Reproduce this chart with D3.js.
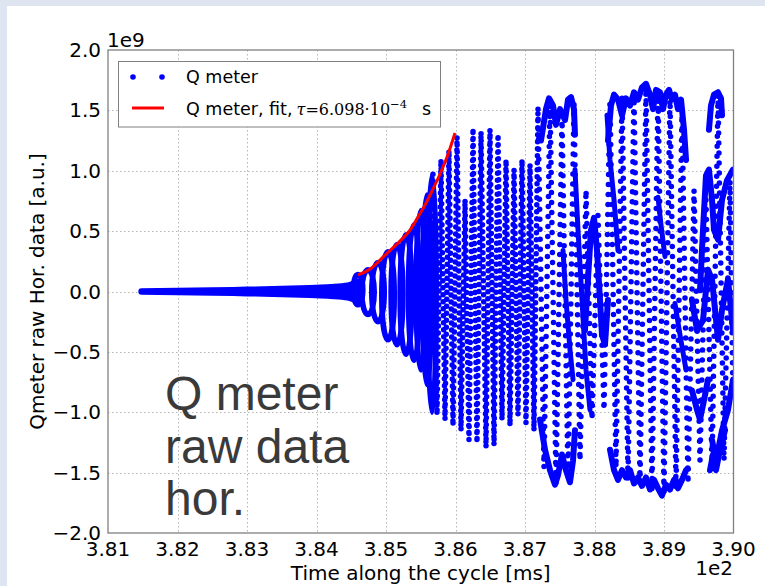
<!DOCTYPE html>
<html><head><meta charset="utf-8">
<script src="https://cdn.jsdelivr.net/npm/d3@7/dist/d3.min.js"></script>
<style>body{margin:0;background:#fff}svg{display:block}</style>
</head><body>
<svg id="chart" width="765" height="586"></svg>
<script>
// ---------- data (time in ms, signal in units of 1e9) ----------
const xTicks = [381, 382, 383, 384, 385, 386, 387, 388, 389, 390];
const yTicks = [-2, -1.5, -1, -0.5, 0, 0.5, 1, 1.5, 2];

// early thin band (before growth)
const bandT   = [381.48, 382.0, 382.5, 383.0, 383.5, 383.9, 384.2, 384.45, 384.6];
const bandAmp = [0.002, 0.006, 0.010, 0.016, 0.022, 0.030, 0.037, 0.05, 0.08];

// growth lobes
const lobeT   = [384.597, 384.741, 384.885, 385.029, 385.158, 385.288, 385.403, 385.504, 385.590, 385.662];
const lobeHW  = [0.07, 0.09, 0.09, 0.09, 0.085, 0.085, 0.08, 0.07, 0.065, 0.06];
const lobeTop = [0.14, 0.18, 0.24, 0.33, 0.39, 0.47, 0.55, 0.67, 0.80, 0.96];
const lobeBot = [-0.11, -0.19, -0.25, -0.40, -0.44, -0.52, -0.57, -0.65, -0.77, -1.0];

// sampled swings (alternating extremes), dense part
const swingT1 = [385.676, 385.734, 385.791, 385.849, 385.906, 385.964, 386.022, 386.079, 386.137, 386.194,
  386.252, 386.309, 386.367, 386.439, 386.496, 386.554, 386.612, 386.669, 386.727, 386.784,
  386.842, 386.899, 386.957, 387.014, 387.072, 387.129, 387.187];
const swingY1 = [0.97, -1.02, 1.09, -1.06, 1.17, -1.11, 1.28, -1.15, 0.76, -1.23,
  1.35, -1.25, 1.32, -1.29, 1.34, -1.27, 1.30, -1.06, 1.09, -1.11,
  1.01, -1.02, 1.09, -1.09, 1.05, -1.15, 1.51];
// sampled swings, sparse part
const swingT2 = [387.187, 387.273, 387.360, 387.446,
  387.532, 387.619, 387.705, 387.791, 387.878, 387.964, 388.050, 388.137, 388.223, 388.309,
  388.396, 388.482, 388.568, 388.655, 388.741, 388.827, 388.914, 389.000, 389.086, 389.173,
  389.259, 389.345, 389.432, 389.518, 389.604, 389.691, 389.777, 389.863, 389.950, 389.993];
const swingY2 = [1.51, -1.46, 1.59, -1.59,
  1.46, -1.56, 1.55, -1.40, 0.84, -1.06, 0.63, -0.98, 1.59, -1.46,
  1.63, -1.56, 1.65, -1.59, 1.69, -1.64, 1.67, -1.66, 1.63, -1.63,
  1.51, -1.59, 0.84, -1.40, 0.76, -1.46, 1.63, -1.40, 0.92, -0.90];

// dense chains of samples
const chainT1 = [387.230, 387.302, 387.345, 387.403, 387.446, 387.504, 387.576, 387.619, 387.662, 387.705, 387.719];
const chainY1 = [1.25, 1.51, 1.60, 1.54, 1.38, 1.51, 1.42, 1.59, 1.61, 1.51, 1.30];
const chainT2 = [388.194, 388.237, 388.281, 388.338, 388.396, 388.453, 388.511, 388.568, 388.626, 388.683, 388.741, 388.799,
  388.842, 388.885, 388.942, 388.986, 389.029, 389.072, 389.115, 389.158, 389.201, 389.245, 389.288, 389.317];
const chainY2 = [1.25, 1.54, 1.63, 1.59, 1.46, 1.60, 1.54, 1.65, 1.59, 1.69, 1.72, 1.63,
  1.51, 1.67, 1.65, 1.51, 1.63, 1.67, 1.59, 1.63, 1.51, 1.59, 1.34, 1.09];
const chainT3 = [389.647, 389.676, 389.719, 389.777, 389.820, 389.835];
const chainY3 = [1.34, 1.54, 1.63, 1.65, 1.60, 1.46];
const chainT4 = [387.216, 387.288, 387.360, 387.432, 387.475, 387.532, 387.590, 387.647, 387.691, 387.719];
const chainY4 = [-1.06, -1.31, -1.48, -1.60, -1.52, -1.35, -1.48, -1.58, -1.40, -1.15];
const chainT5 = [388.223, 388.281, 388.338, 388.396, 388.453, 388.511, 388.568, 388.626, 388.683, 388.741,
  388.799, 388.856, 388.914, 388.971, 389.029, 389.086, 389.144, 389.201, 389.259, 389.317];
const chainY5 = [-1.31, -1.48, -1.56, -1.48, -1.54, -1.48, -1.59, -1.54, -1.61, -1.54,
  -1.64, -1.56, -1.63, -1.69, -1.60, -1.64, -1.56, -1.63, -1.56, -1.48];
const chainT6 = [389.662, 389.705, 389.748, 389.806, 389.878];
const chainY6 = [-1.48, -1.35, -1.48, -1.31, -1.15];
const chainT7 = [387.863, 387.906, 387.950, 387.993, 388.036, 388.079, 388.108, 388.151, 388.194];
const chainY7 = [-0.32, 0.10, 0.51, 0.61, 0.34, -0.07, -0.36, -0.44, -0.07];
const chainT8 = [389.518, 389.561, 389.604, 389.647, 389.691, 389.719, 389.777, 389.835, 389.906, 389.993];
const chainY8 = [0.01, 0.51, 0.96, 1.01, 0.76, 0.51, 0.43, 0.76, 0.92, 1.01];
const chainT9 = [389.403, 389.475, 389.561, 389.633, 389.691, 389.777, 389.835, 389.921, 389.993];
const chainY9 = [-0.07, -0.32, -0.24, 0.18, 0.10, -0.40, -0.15, 0.10, -0.32];
const chainT10 = [389.403, 389.475, 389.518, 389.576, 389.633];
const chainY10 = [-0.82, -0.98, -1.06, -0.90, -0.73];
const chainT11 = [389.691, 389.748, 389.835, 389.921, 389.993];
const chainY11 = [-1.23, -1.40, -1.15, -0.98, -0.73];
const chainT12 = [387.719, 387.763, 387.820, 387.878, 387.935];
const chainY12 = [1.01, 0.51, -0.07, -0.65, -0.98];
const chainT13 = [388.180, 388.223, 388.281, 388.338];
const chainY13 = [1.46, 1.09, 0.76, 0.34];
const chainT14 = [387.547, 387.590, 387.647, 387.691];
const chainY14 = [0.34, -0.07, -0.48, -0.73];
const chainT15 = [388.914, 388.957, 389.014];
const chainY15 = [0.78, 0.55, 0.29];
const chainT16 = [389.158, 389.230, 389.317];
const chainY16 = [-0.10, -0.36, -0.65];

// exponential fit (tau = 6.098e-4 s)
const fitT = [384.597, 384.770, 384.986, 385.201, 385.345, 385.460, 385.561, 385.662, 385.777, 385.878, 385.993];
const fitY = [0.137, 0.186, 0.302, 0.418, 0.509, 0.617, 0.716, 0.832, 0.973, 1.114, 1.313];

// ---------- drawing ----------
const W = 765, H = 586;
const svg = d3.select('#chart');
const L = 108, R = 733.5, T = 50, B = 533;
const x = d3.scaleLinear().domain([381, 390]).range([L, R]);
const y = d3.scaleLinear().domain([-2, 2]).range([B, T]);
const BLUE = '#0000ff';
const SANS = 'DejaVu Sans, sans-serif';
const SERIF = 'DejaVu Serif, serif';

svg.append('rect').attr('width', W).attr('height', H).attr('fill', '#dee5f0');
svg.append('rect').attr('x', 7).attr('y', 6).attr('width', W - 7).attr('height', H - 6).attr('fill', '#ffffff');

svg.append('defs').append('clipPath').attr('id', 'clip')
  .append('rect').attr('x', L).attr('y', T).attr('width', R - L).attr('height', B - T);

// grid
const grid = svg.append('g').attr('stroke', '#b4b4b4').attr('stroke-width', 1).attr('stroke-dasharray', '1.5,2.5');
grid.selectAll('.gx').data(xTicks.slice(1, -1)).join('line')
  .attr('x1', d => Math.round(x(d)) + 0.5).attr('x2', d => Math.round(x(d)) + 0.5).attr('y1', T).attr('y2', B);
grid.selectAll('.gy').data(yTicks.slice(1, -1)).join('line')
  .attr('y1', d => Math.round(y(d)) + 0.5).attr('y2', d => Math.round(y(d)) + 0.5).attr('x1', L).attr('x2', R);

const plot = svg.append('g').attr('clip-path', 'url(#clip)');

// early band
const bandData = bandT.map((t, i) => ({t, a: bandAmp[i]}));
plot.append('path').datum(bandData)
  .attr('d', d3.area().x(d => x(d.t)).y0(d => y(-d.a)).y1(d => y(d.a)).curve(d3.curveMonotoneX))
  .attr('fill', BLUE).attr('stroke', BLUE).attr('stroke-width', 6).attr('stroke-linejoin', 'round');

// lobes
plot.selectAll('.lobe').data(lobeT.map((t, i) => ({t, hw: lobeHW[i], top: lobeTop[i], bot: lobeBot[i]})))
  .join('ellipse')
  .attr('cx', d => x(d.t)).attr('rx', d => x(d.t + d.hw) - x(d.t))
  .attr('cy', d => (y(d.top) + y(d.bot)) / 2).attr('ry', d => (y(d.bot) - y(d.top)) / 2)
  .attr('fill', 'none').attr('stroke', BLUE).attr('stroke-width', 5.5);

const line = d3.line().x(d => x(d[0])).y(d => y(d[1]));

// sampled swings drawn as dotted strokes
plot.append('path').datum(swingT1.map((t, i) => [t, swingY1[i]]))
  .attr('d', line).attr('fill', 'none').attr('stroke', BLUE)
  .attr('stroke-width', 5.5).attr('stroke-linecap', 'round').attr('stroke-dasharray', '0 7');
plot.append('path').datum(swingT2.map((t, i) => [t, swingY2[i]]))
  .attr('d', line).attr('fill', 'none').attr('stroke', BLUE)
  .attr('stroke-width', 5.5).attr('stroke-linecap', 'round').attr('stroke-dasharray', '0 10');

// dense chains
const chains = [[chainT1, chainY1], [chainT2, chainY2], [chainT3, chainY3], [chainT4, chainY4], [chainT5, chainY5],
  [chainT6, chainY6], [chainT7, chainY7], [chainT8, chainY8], [chainT9, chainY9], [chainT10, chainY10], [chainT11, chainY11],
  [chainT12, chainY12], [chainT13, chainY13], [chainT14, chainY14], [chainT15, chainY15], [chainT16, chainY16]];
plot.selectAll('.chain').data(chains.map(c => c[0].map((t, i) => [t, c[1][i]])))
  .join('path').attr('d', line).attr('fill', 'none').attr('stroke', BLUE)
  .attr('stroke-width', (d, i) => i < 11 ? 6 : 5).attr('stroke-linecap', 'round').attr('stroke-linejoin', 'round');

// fit
plot.append('path').datum(fitT.map((t, i) => [t, fitY[i]]))
  .attr('d', d3.line().x(d => x(d[0])).y(d => y(d[1])).curve(d3.curveMonotoneX))
  .attr('fill', 'none').attr('stroke', '#ff0000').attr('stroke-width', 3);

// frame
svg.append('rect').attr('x', L).attr('y', T).attr('width', R - L).attr('height', B - T)
  .attr('fill', 'none').attr('stroke', '#808080').attr('stroke-width', 1.3);

// tick labels
svg.append('g').selectAll('text').data(xTicks).join('text')
  .attr('x', d => x(d)).attr('y', 556).attr('text-anchor', 'middle')
  .attr('font-family', SANS).attr('font-size', 20).attr('fill', '#000')
  .text(d => (d / 100).toFixed(2));
svg.append('g').selectAll('text').data(yTicks).join('text')
  .attr('x', 101).attr('y', d => y(d) + 7).attr('text-anchor', 'end')
  .attr('font-family', SANS).attr('font-size', 20).attr('fill', '#000')
  .text(d => d3.format('.1f')(d).replace('-', '\u2212'));

svg.append('text').attr('x', 107).attr('y', 47).attr('font-family', SANS).attr('font-size', 20).text('1e9');
svg.append('text').attr('x', 733).attr('y', 575).attr('text-anchor', 'end').attr('font-family', SANS).attr('font-size', 20).text('1e2');

svg.append('text').attr('x', (L + R) / 2).attr('y', 580).attr('text-anchor', 'middle')
  .attr('font-family', SANS).attr('font-size', 20).text('Time along the cycle [ms]');
svg.append('text').attr('transform', 'translate(44,' + ((T + B) / 2) + ') rotate(-90)').attr('text-anchor', 'middle')
  .attr('font-family', SANS).attr('font-size', 20).text('Qmeter raw Hor. data [a.u.]');

// big annotation
const ann = ['Q meter', 'raw data', 'hor.'];
svg.append('g').selectAll('text').data(ann).join('text')
  .attr('x', 165).attr('y', (d, i) => 410 + i * 52.5)
  .attr('font-family', 'Liberation Sans, Arial, sans-serif').attr('font-size', 48).attr('fill', '#3a3a3a')
  .text(d => d);

// legend
const lg = svg.append('g');
lg.append('rect').attr('x', 118.5).attr('y', 61.5).attr('width', 322).attr('height', 65.5)
  .attr('fill', '#fff').attr('stroke', '#808080').attr('stroke-width', 1);
lg.selectAll('circle').data([133, 162]).join('circle').attr('cx', d => d).attr('cy', 77).attr('r', 2.8).attr('fill', BLUE);
lg.append('line').attr('x1', 132).attr('x2', 164).attr('y1', 108).attr('y2', 108).attr('stroke', '#ff0000').attr('stroke-width', 3);
lg.append('text').attr('x', 186).attr('y', 83).attr('font-family', SANS).attr('font-size', 17.5).text('Q meter');
const t2 = lg.append('text').attr('x', 186).attr('y', 115).attr('font-family', SANS).attr('font-size', 17.5);
t2.append('tspan').text('Q meter, fit,');
t2.append('tspan').attr('dx', 4).attr('font-family', SERIF).attr('font-style', 'italic').attr('font-size', 16).text('\u03c4');
t2.append('tspan').attr('font-family', SERIF).attr('font-size', 16).text('=6.098\u00b710');
t2.append('tspan').attr('font-family', SERIF).attr('font-size', 11.5).attr('dy', -7).text('\u22124');
t2.append('tspan').attr('x', 422).attr('dy', 7).text('s');
</script>
</body></html>
